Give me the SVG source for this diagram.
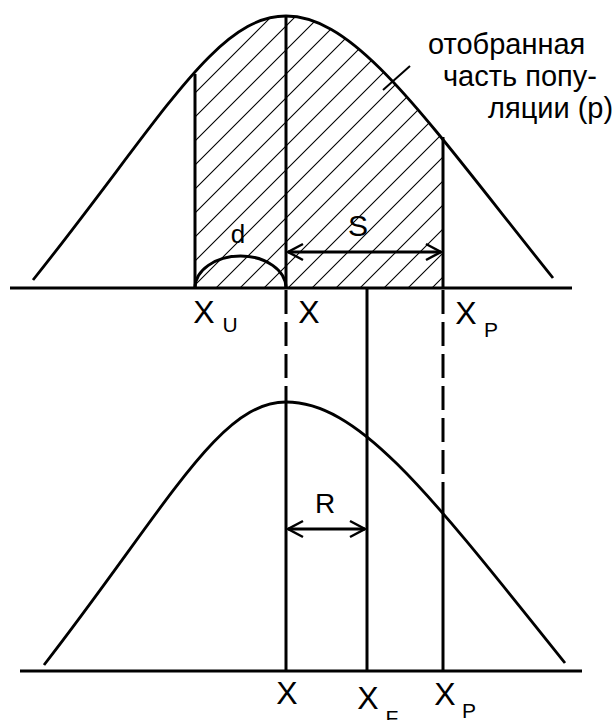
<svg xmlns="http://www.w3.org/2000/svg" width="613" height="720" viewBox="0 0 613 720">
<style>
.ln{stroke:#000;stroke-width:3;fill:none}
.cv{stroke:#000;stroke-width:2.8;fill:none}
.ds{stroke:#000;stroke-width:3;fill:none;stroke-dasharray:24 8}
.t{font-family:"Liberation Sans",Arial,sans-serif;fill:#000}
.big{font-size:32px}
.sub{font-size:21px}
.lab{font-size:29px}
</style>
<defs>
<pattern id="hatch" patternUnits="userSpaceOnUse" width="24" height="24">
<path d="M-6,6 L6,-6 M0,24 L24,0 M18,30 L30,18" stroke="#000" stroke-width="1.1"/>
</pattern>
<clipPath id="under">
<path d="M33,280 C163,117 216,16 286,16 C356,16 423,115.5 553,278 L553,288 L33,288 Z"/>
</clipPath>
<marker id="ah" markerUnits="userSpaceOnUse" markerWidth="20" markerHeight="20" viewBox="-17 -10 20 20" refX="0" refY="0" orient="auto-start-reverse">
<path d="M-15,-8 L0,0 L-15,8" fill="none" stroke="#000" stroke-width="2.5"/>
</marker>
</defs>
<rect width="613" height="720" fill="#fff"/>

<g id="top-distribution">
<g clip-path="url(#under)"><rect x="195" y="0" width="248" height="288" fill="url(#hatch)"/></g>
<path class="cv" d="M33,280 C163,117 216,16 286,16 C356,16 423,115.5 553,278"/>
<line class="ln" x1="10" y1="288" x2="572" y2="288"/>
<line class="ln" x1="195" y1="74" x2="195" y2="288"/>
<line class="ln" x1="286" y1="16" x2="286" y2="288"/>
<line class="ln" x1="443" y1="137" x2="443" y2="288"/>
<path class="ln" d="M195,288 A45.5,32 0 0 1 286,288"/>
</g>

<g id="bottom-distribution">
<path class="cv" d="M44,665 C168,505 219,402 286,402 C359,402 429,493 565,663"/>
<line class="ln" x1="20" y1="671" x2="582" y2="671"/>
<line class="ln" x1="286" y1="390" x2="286" y2="671"/>
<line class="ln" x1="367" y1="288" x2="367" y2="671"/>
<line class="ln" x1="443" y1="493" x2="443" y2="671"/>
</g>

<g id="connectors">
<line class="ds" x1="286" y1="290" x2="286" y2="390"/>
<line class="ds" x1="443" y1="290" x2="443" y2="493"/>
<line class="ln" x1="288" y1="252" x2="441" y2="252" marker-start="url(#ah)" marker-end="url(#ah)"/>
<line class="ln" x1="288" y1="529" x2="365" y2="529" marker-start="url(#ah)" marker-end="url(#ah)"/>
<line stroke="#000" stroke-width="2" x1="383" y1="90" x2="410" y2="66"/>
</g>

<g id="labels">
<text class="t" x="238" y="243" font-size="26" text-anchor="middle">d</text>
<text class="t" x="358" y="236" font-size="30" text-anchor="middle">S</text>
<text class="t" x="325" y="513" font-size="28" text-anchor="middle">R</text>

<text class="t big" x="204" y="323" text-anchor="middle">X</text>
<text class="t sub" x="230" y="332" text-anchor="middle">U</text>
<text class="t big" x="309" y="323" text-anchor="middle">X</text>
<text class="t big" x="466" y="324" text-anchor="middle">X</text>
<text class="t sub" x="491" y="337" text-anchor="middle">P</text>

<text class="t big" x="287" y="704" text-anchor="middle">X</text>
<text class="t big" x="368" y="709" text-anchor="middle">X</text>
<text class="t sub" x="392" y="725" text-anchor="middle">F</text>
<text class="t big" x="445" y="705" text-anchor="middle">X</text>
<text class="t sub" x="469" y="718" text-anchor="middle">P</text>

<text class="t lab" x="428" y="54">отобранная</text>
<text class="t lab" x="443" y="86">часть попу-</text>
<text class="t lab" x="488" y="118">ляции (р)</text>
</g>
</svg>
